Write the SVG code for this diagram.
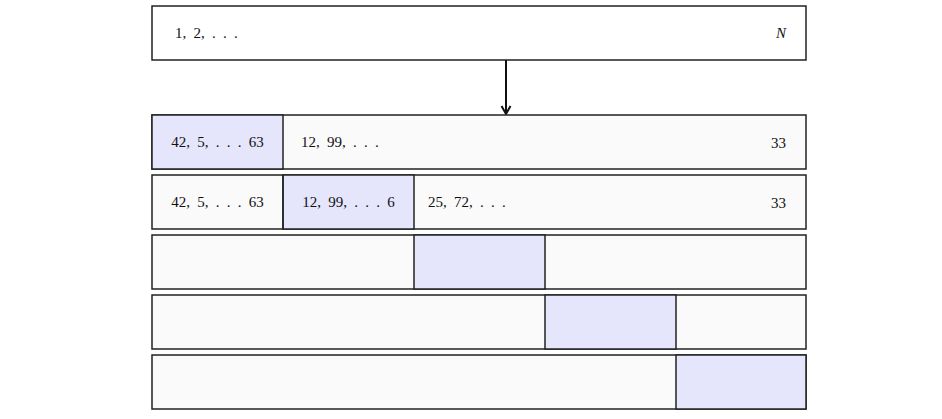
<svg xmlns="http://www.w3.org/2000/svg" width="942" height="419" viewBox="0 0 942 419">
<style>
.box{fill:#fafafa;stroke:#222;stroke-width:1.5}
.top{fill:#ffffff;stroke:#222;stroke-width:1.5}
.hi{fill:#e5e5fc;stroke:#222;stroke-width:1.5}
text{font-family:"Liberation Serif","DejaVu Serif",serif;font-size:15px;fill:#111;word-spacing:3.5px}
.c{text-anchor:middle}
.e{text-anchor:end}
</style>
<defs>
<marker id="ah" markerWidth="12" markerHeight="12" refX="9" refY="6" orient="auto" markerUnits="userSpaceOnUse">
<path d="M1,1.5 L9,6 L1,10.5" fill="none" stroke="#111" stroke-width="2"/>
</marker>
</defs>
<rect width="942" height="419" fill="#ffffff"/>
<g id="input">
<rect class="top" x="152" y="6" width="654" height="54"/>
<text x="175" y="38">1, 2, . . .</text>
<text x="786" y="38" class="e" font-style="italic">N</text>
</g>
<g id="connectors">
<line x1="506" y1="60" x2="506" y2="114" stroke="#111" stroke-width="2" marker-end="url(#ah)"/>
</g>
<g id="row1">
<rect class="box" x="152" y="115" width="654" height="54"/>
<rect class="hi" x="152" y="115" width="131" height="54"/>
<text x="217.5" y="147" class="c">42, 5, . . . 63</text>
<text x="301" y="147">12, 99, . . .</text>
<text x="786" y="148" class="e">33</text>
</g>
<g id="row2">
<rect class="box" x="152" y="175" width="654" height="54"/>
<rect class="hi" x="283" y="175" width="131" height="54"/>
<line x1="283" y1="175" x2="283" y2="229" stroke="#222" stroke-width="1.5"/>
<text x="217.5" y="207" class="c">42, 5, . . . 63</text>
<text x="348.5" y="207" class="c">12, 99, . . . 6</text>
<text x="428" y="207">25, 72, . . .</text>
<text x="786" y="208" class="e">33</text>
</g>
<g id="row3">
<rect class="box" x="152" y="235" width="654" height="54"/>
<rect class="hi" x="414" y="235" width="131" height="54"/>
</g>
<g id="row4">
<rect class="box" x="152" y="295" width="654" height="54"/>
<rect class="hi" x="545" y="295" width="131" height="54"/>
</g>
<g id="row5">
<rect class="box" x="152" y="355" width="654" height="54"/>
<rect class="hi" x="676" y="355" width="130" height="54"/>
</g>
</svg>
